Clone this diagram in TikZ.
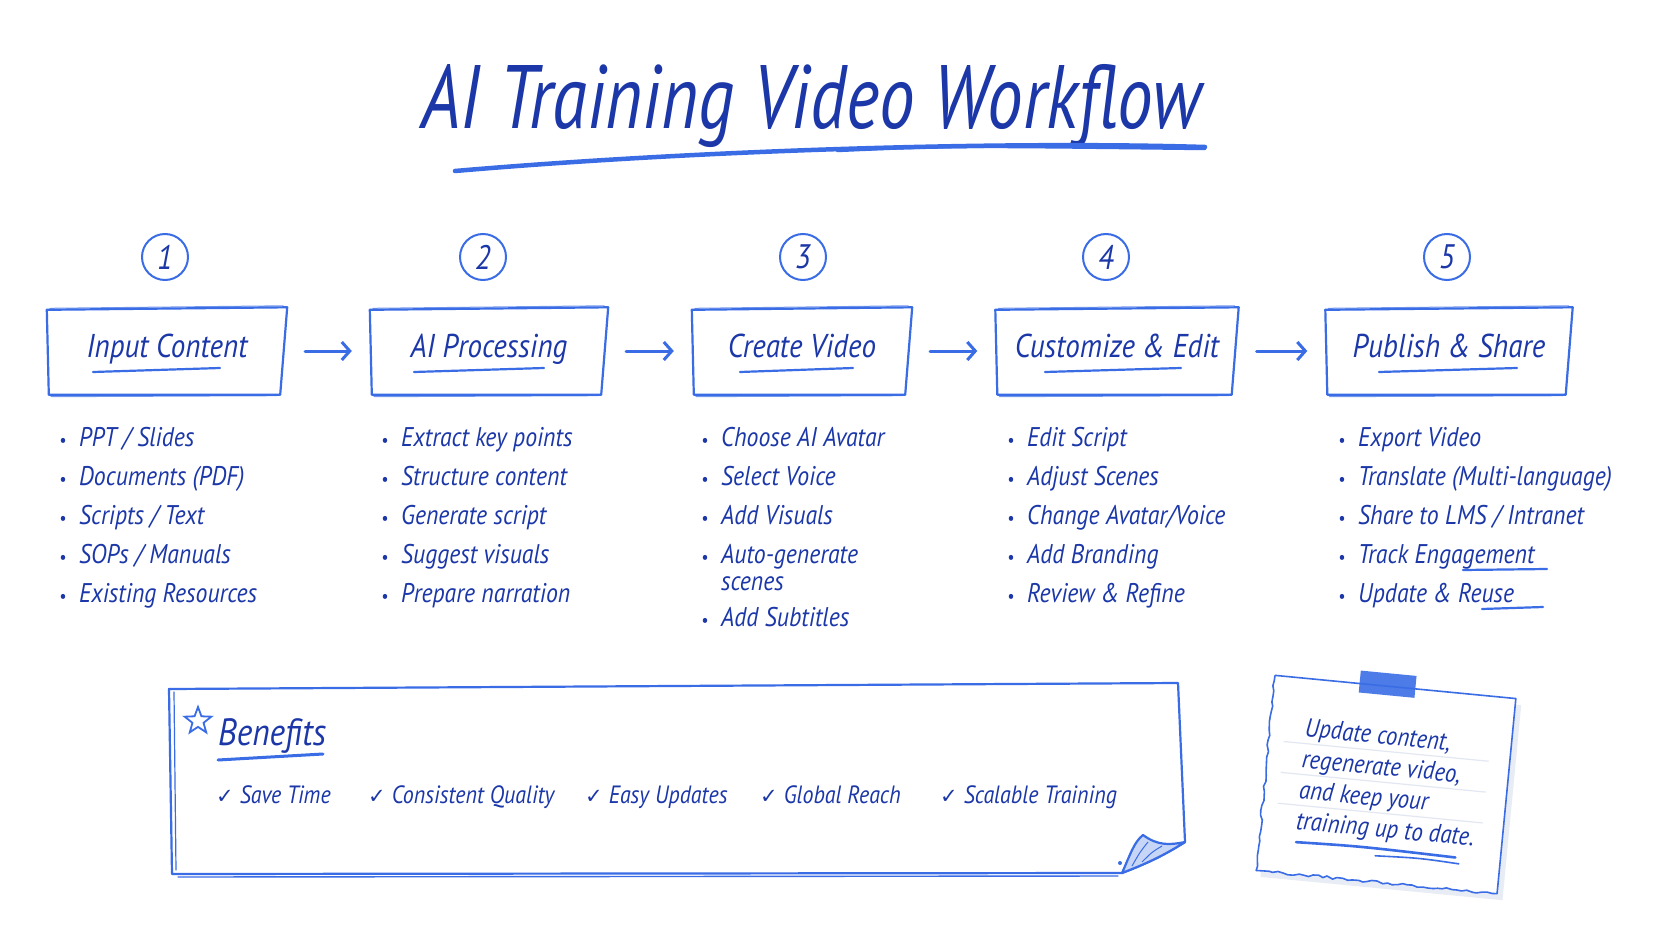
\documentclass[tikz,border=0pt]{standalone}
\usepackage{fontspec}
\newfontfamily\hand{PT Sans}[FakeStretch=0.88]
\newfontfamily\handT{PT Sans}[FakeStretch=0.79]
\newfontfamily\symf{DejaVu Sans}
\usetikzlibrary{calc,shapes.geometric,decorations.pathmorphing,arrows.meta}
\definecolor{ink}{HTML}{1B37A8}
\definecolor{pen}{HTML}{3A6DE5}
\definecolor{rulec}{HTML}{E2E7F2}
\definecolor{foldc}{HTML}{C7D6F6}
\definecolor{shadowc}{HTML}{E8ECF5}
\newcommand\bul{\llap{{\fontsize{18}{18}\selectfont\textbullet}\hspace{13pt}}}
\newcommand\chk{{\symf\fontsize{21}{21}\selectfont ✓}\hspace{6pt}}
\newcommand\skbox[1]{%
  \draw[pencil] ($(#1.north west)+(0,2.5)$) -- ($(#1.north east)+(0,0)$) -- ($(#1.south east)+(-7,0)$) -- ($(#1.south west)+(2,0)$) -- cycle;
  \draw[pencil,line width=1pt,opacity=.7] ($(#1.north west)+(3,1)$) -- ($(#1.north east)+(-4,-1.5)$);
  \draw[pencil,line width=1pt,opacity=.7] ($(#1.south west)+(4,2)$) -- ($(#1.south east)+(-10,1)$);}
\begin{document}
\begin{tikzpicture}[x=1pt,y=-1pt,
  pencil/.style={draw=pen,line width=2.2pt,line cap=round,line join=round},
  stepbox/.style={minimum width=#1, minimum height=87pt, inner sep=0pt, text=ink,
    font=\hand\itshape\fontsize{33}{36}\selectfont, text height=22pt, text depth=9pt},
  numc/.style={circle, draw=pen, line width=2pt, minimum size=46pt, inner sep=0pt, text=ink,
    font=\hand\itshape\fontsize{34}{34}\selectfont},
  item/.style={anchor=base west, inner sep=0pt, text=ink, font=\hand\itshape\fontsize{27}{30}\selectfont},
  bitem/.style={anchor=base west, inner sep=0pt, text=ink, font=\hand\itshape\fontsize{25}{30}\selectfont},
  flow/.style={draw=pen, line width=3pt, line cap=round,
    -{Straight Barb[length=8pt,width=18pt,line width=3pt]}, shorten >=18pt, shorten <=18pt},
]
\useasboundingbox[fill=white] (0,0) rectangle (1672,941);

% title
\node[anchor=base west, inner sep=0pt, text=ink, font=\handT\itshape\fontsize{90}{92}\selectfont] (title) at (421,129) {AI Training Video Workflow};
\draw[pencil, line width=4.5pt] (455,171) .. controls (700,150) and (1000,141) .. (1205,147);
\draw[pencil, line width=2.5pt] (837,151) .. controls (950,146) .. (1205,149);

% numbers
\node[numc] (n1) at (165,257) {1};
\node[numc] (n2) at (483,257) {2};
\node[numc] (n3) at (803,257) {3};
\node[numc] (n4) at (1106,257) {4};
\node[numc] (n5) at (1447,257) {5};

% step boxes
\node[stepbox=240pt] (b1) at (167,351) {Input Content};
\node[stepbox=238pt] (b2) at (489,351) {AI Processing};
\node[stepbox=220pt] (b3) at (802,351) {Create Video};
\node[stepbox=243pt] (b4) at (1117,351) {Customize \& Edit};
\node[stepbox=247pt] (b5) at (1449,351) {Publish \& Share};
\skbox{b1}\skbox{b2}\skbox{b3}\skbox{b4}\skbox{b5}
\draw[pencil] ($(b1.center)+(-74,21)$) -- ($(b1.center)+(53,17)$);
\draw[pencil] ($(b2.center)+(-75,21)$) -- ($(b2.center)+(55,17)$);
\draw[pencil] ($(b3.center)+(-62,21)$) -- ($(b3.center)+(51,17)$);
\draw[pencil] ($(b4.center)+(-72,21)$) -- ($(b4.center)+(64,17)$);
\draw[pencil] ($(b5.center)+(-70,21)$) -- ($(b5.center)+(68,17)$);

\draw[flow] (b1) -- (b2);
\draw[flow] (b2) -- (b3);
\draw[flow] (b3) -- (b4);
\draw[flow] (b4) -- (b5);

% bullet lists
\foreach \t [count=\j] in {PPT / Slides, Documents (PDF), Scripts / Text, SOPs / Manuals, Existing Resources}
  \node[item] (a\j) at (79,407+39*\j) {\bul\t};
\foreach \t [count=\j] in {Extract key points, Structure content, Generate script, Suggest visuals, Prepare narration}
  \node[item] (p\j) at (401,407+39*\j) {\bul\t};
\node[item] (c1) at (721,446) {\bul Choose AI Avatar};
\node[item] (c2) at (721,485) {\bul Select Voice};
\node[item] (c3) at (721,524) {\bul Add Visuals};
\node[item] (c4) at (721,563) {\bul Auto-generate};
\node[item] (c4b) at (721,590) {scenes};
\node[item] (c5) at (721,626) {\bul Add Subtitles};
\foreach \t [count=\j] in {Edit Script, Adjust Scenes, Change Avatar/Voice, Add Branding, Review \& Refine}
  \node[item] (e\j) at (1027,407+39*\j) {\bul\t};
\foreach \t [count=\j] in {Export Video, Translate (Multi-language), Share to LMS / Intranet, Track Engagement, Update \& Reuse}
  \node[item] (s\j) at (1358,407+39*\j) {\bul\t};
\draw[pencil] (1463,570) -- (1547,569);
\draw[pencil] (1482,609) -- (1543,607);

% benefits panel
\draw[pencil, fill=white] (169,689) -- (1178,683) -- (1185,842) .. controls (1160,858) and (1140,866) .. (1122,873) -- (172,874) -- cycle;
\draw[pencil, line width=1.4pt] (178,877) -- (1118,876);
\draw[pencil, line width=1.2pt] (174,692) -- (176,870);
\draw[pencil, fill=foldc] (1122,873) .. controls (1130,855) and (1134,842) .. (1143,835) .. controls (1158,846) and (1170,845) .. (1185,842) .. controls (1160,858) and (1140,866) .. (1122,873) -- cycle;
\draw[pen, line width=1pt] (1132,866) .. controls (1140,852) .. (1148,842);
\draw[pen, line width=1pt] (1142,862) .. controls (1152,852) .. (1162,846);
\fill[pen] (1120,863) circle (2pt);
\node[star, star points=5, star point ratio=2.4, draw=pen, line width=1.8pt, minimum size=28pt, inner sep=0pt] (st) at (198,721) {};
\node[anchor=base west, inner sep=0pt, text=ink, font=\hand\itshape\fontsize{38}{40}\selectfont] (bt) at (218,745) {Benefits};
\draw[pencil, line width=3pt] (218,760) -- (323,754);
\node[bitem] (k1) at (216,803) {\chk Save Time};
\node[bitem] (k2) at (368,803) {\chk Consistent Quality};
\node[bitem] (k3) at (585,803) {\chk Easy Updates};
\node[bitem] (k4) at (760,803) {\chk Global Reach};
\node[bitem] (k5) at (940,803) {\chk Scalable Training};

% note card
\pgfmathsetseed{7}
\begin{scope}[shift={(1386,784.5)}, rotate=-5.5]
  \fill[shadowc] (-116,-92) rectangle (127,104);
  \draw[draw=pen, line width=1.6pt, fill=white, line join=round]
    (-121,-98) -- (121,-98) -- (121,98)
    decorate[decoration={random steps, segment length=5pt, amplitude=1.3pt}] {-- (-121,98) -- (-121,-98)};
  \foreach \yy in {-33,-2,29} \draw[rulec, line width=1.2pt] (-106,\yy) -- (100,\yy);
  \fill[pen, opacity=.9] (-36,-111) rectangle (20,-89);
  \node[anchor=base west, inner sep=0pt, text=ink, transform shape, font=\hand\itshape\fontsize{26}{31}\selectfont] (memo) at (-86,-40)
    {\vtop{\hbox{Update content,}\hbox{regenerate video,}\hbox{and keep your}\hbox{training up to date.}}};
  \draw[pencil, line width=2.6pt] (-84,66) .. controls (-20,64) .. (76,66);
  \draw[pencil, line width=1.6pt] (-4,72) .. controls (40,70) .. (80,72);
\end{scope}
\end{tikzpicture}
\end{document}
